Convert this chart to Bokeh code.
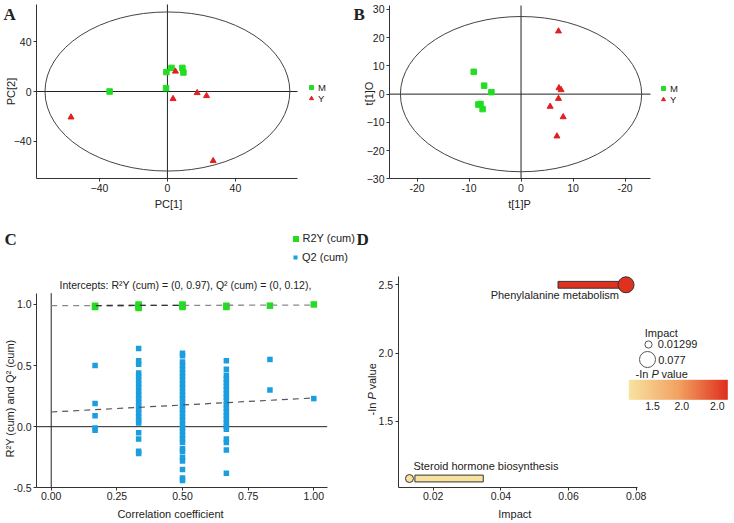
from math import pi
from bokeh.plotting import figure
from bokeh.layouts import column, row
from bokeh.models import (Label, Legend, LegendItem, ColorBar, LinearColorMapper,
                          FixedTicker, ColumnDataSource, NumeralTickFormatter)
from bokeh.embed import file_html
from bokeh.resources import INLINE

# ---------------- data ----------------
# Panel A: PCA score plot
a_m_x = [-34.0, -0.6, 2.4, 8.8, 9.4, -0.8]
a_m_y = [0.0, 15.6, 19.0, 19.0, 15.3, 2.7]
a_y_x = [-56.7, 4.7, 3.3, 17.5, 23.0, 26.9]
a_y_y = [-20.7, 16.2, -5.9, -1.1, -3.5, -55.8]
a_t2_semi = [72.0, 64.0]          # Hotelling T2 ellipse semi-axes
a_xlim = [-77.0, 76.5]
a_ylim = [-70.0, 70.0]
a_ticks = [-40, 0, 40]

# Panel B: OPLS-DA score plot
b_m_x = [-9.1, -7.1, -5.7, -7.8, -8.2, -7.4]
b_m_y = [7.9, 3.0, 0.7, -3.5, -3.7, -5.3]
b_y_x = [7.2, 7.3, 7.7, 7.2, 5.6, 8.1, 6.9]
b_y_y = [22.3, 2.2, 1.5, -1.6, -4.4, -8.1, -14.9]
b_t2_semi = [23.2, 27.5]
b_xlim = [-25.3, 24.9]
b_ylim = [-30.0, 31.4]
b_xticks = [-20, -10, 0, 10, 20]
b_xtick_labels = ["-20", "-10", "0", "10", "-20"]
b_yticks = [-30, -20, -10, 0, 10, 20, 30]

# Panel C: permutation test
perm_levels = [0.167, 0.333, 0.5, 0.667, 0.833, 1.0]
r2_by_level = [[0.99, 0.98], [1.0, 0.99, 0.98, 0.97], [1.0, 0.99, 0.98],
               [0.99, 0.98], [0.99], [1.0]]
q2_by_level = [
    [0.50, 0.19, 0.09, -0.01, -0.03],
    [0.64, 0.54, 0.51, 0.44, 0.41, 0.38, 0.35, 0.32, 0.29, 0.26, 0.23, 0.20,
     0.17, 0.14, 0.11, 0.08, 0.05, 0.03, -0.05, -0.10, -0.20, -0.22],
    [0.60, 0.58, 0.53, 0.50, 0.47, 0.44, 0.41, 0.38, 0.35, 0.32, 0.29, 0.26,
     0.23, 0.20, 0.17, 0.14, 0.11, 0.08, 0.05, 0.02, -0.01, -0.04, -0.07,
     -0.10, -0.13, -0.18, -0.20, -0.25, -0.28, -0.35, -0.42, -0.44],
    [0.54, 0.47, 0.42, 0.39, 0.36, 0.33, 0.30, 0.27, 0.24, 0.21, 0.18, 0.15,
     0.12, 0.09, 0.06, 0.03, 0.00, -0.02, -0.10, -0.13, -0.19, -0.38],
    [0.55, 0.30],
    [0.23],
]
r2_fit_x = [0.0, 1.0]
r2_fit_y = [0.99, 0.995]
r2_fit_dark_x = [0.17, 0.5]
r2_fit_dark_y = [0.991, 0.9925]
q2_fit_x = [0.0, 1.0]
q2_fit_y = [0.12, 0.235]
c_xlim = [-0.056, 1.051]
c_ylim = [-0.5, 1.092]
c_xticks = [0.0, 0.25, 0.5, 0.75, 1.0]
c_yticks = [-0.5, 0.0, 0.5, 1.0]
c_title = "Intercepts: R\u00b2Y (cum) = (0, 0.97), Q\u00b2 (cum) = (0, 0.12),"

# Panel D: pathway analysis
pathways = ["Phenylalanine metabolism", "Steroid hormone biosynthesis"]
impact = [0.077, 0.01299]
neglogp = [2.50, 1.08]
bar_left = [0.0569, 0.0146]
bar_right = [0.0758, 0.0348]
d_xlim = [0.00966, 0.0803]
d_ylim = [1.012, 2.563]
d_xticks = [0.02, 0.04, 0.06, 0.08]
d_yticks = [1.5, 2.0, 2.5]
size_legend = ["0.01299", "0.077"]
cbar_ticks = [1.42, 1.84, 2.35]
cbar_labels = ["1.5", "2.0", "2.0"]

# ---------------- styling helpers ----------------
FONT = "Liberation Sans"
SERIF = "Liberation Serif"
TXT = "#222222"
AX = "#333333"
GREEN = "#22dd22"
RED = "#e02020"
BLUE = "#1a9ee0"


def panel_fig(W, H, box, xlim, ylim):
    """Figure whose frame fills the canvas; the axes sit at the box edges."""
    L, R, T, B = box
    sx = (xlim[1] - xlim[0]) / (R - L)
    sy = (ylim[1] - ylim[0]) / (B - T)
    xr = (xlim[0] - L * sx, xlim[1] + (W - R) * sx)
    yr = (ylim[0] - (H - B) * sy, ylim[1] + T * sy)
    p = figure(width=W, height=H, x_range=xr, y_range=yr,
               output_backend="svg", toolbar_location=None,
               min_border=0, min_border_left=0, min_border_right=0,
               min_border_top=0, min_border_bottom=0)
    p.outline_line_color = None
    p.grid.visible = False
    p.xaxis.fixed_location = ylim[0]
    p.xaxis.bounds = (xlim[0], xlim[1])
    p.yaxis.fixed_location = xlim[0]
    p.yaxis.bounds = (ylim[0], ylim[1])
    for ax in p.axis:
        ax.axis_line_color = AX
        ax.major_tick_line_color = AX
        ax.major_tick_out = 3
        ax.major_tick_in = 0
        ax.minor_tick_line_color = None
        ax.major_label_text_font = FONT
        ax.major_label_text_font_size = "10.5px"
        ax.major_label_text_color = TXT
        ax.major_label_standoff = 2
    return p


def lab(p, x, y, text, size="11px", angle=0.0, align="left", baseline="middle",
        font=FONT, style="normal"):
    p.add_layout(Label(x=x, y=y, x_units="screen", y_units="screen", text=text,
                       angle=angle, text_align=align, text_baseline=baseline,
                       text_font=font, text_font_size=size, text_font_style=style,
                       text_color=TXT))


def leg(p, label, renderer, loc, gw, gh, standoff, size="11px"):
    L = Legend(items=[LegendItem(label=label, renderers=[renderer])], location=loc,
               glyph_width=gw, glyph_height=gh,
               label_standoff=standoff, spacing=0, padding=0, margin=0,
               label_height=gh, label_width=0,
               border_line_color=None, background_fill_alpha=0,
               label_text_font=FONT, label_text_font_size=size,
               label_text_color=TXT)
    p.add_layout(L)


def zero_lines(p, xlim, ylim):
    p.segment(x0=[0, xlim[0]], y0=[ylim[0], 0], x1=[0, xlim[1]], y1=[ylim[1], 0],
              line_color="#222222", line_width=1)


# ---------------- Panel A ----------------
WA, HA = 350, 228
pa = panel_fig(WA, HA, (36, 297, 4, 178), a_xlim, a_ylim)
pa.xaxis.ticker = FixedTicker(ticks=a_ticks)
pa.yaxis.ticker = FixedTicker(ticks=a_ticks)
zero_lines(pa, a_xlim, a_ylim)
pa.ellipse(x=[0], y=[0], width=[2 * a_t2_semi[0]], height=[2 * a_t2_semi[1]],
           fill_color=None, line_color="#444444", line_width=1)
ra_m = pa.scatter(a_m_x, a_m_y, marker="square", size=5.5, fill_color=GREEN,
                  line_color=GREEN)
ra_y = pa.scatter(a_y_x, a_y_y, marker="triangle", size=6, fill_color=RED,
                  line_color=RED)
lab(pa, 3, HA - 4.3, "A", size="17px", font=SERIF, style="bold", baseline="top")
lab(pa, 4, HA - 91, "PC[2]", angle=pi / 2, align="center", baseline="top")
lab(pa, 168, HA - 203, "PC[1]", align="center")
leg(pa, "M", ra_m, (306, HA - 92.5), 10, 10, 2, size="9.5px")
leg(pa, "Y", ra_y, (306, HA - 103.5), 10, 10, 2, size="9.5px")

# ---------------- Panel B ----------------
WB, HB = 382, 228
pb = panel_fig(WB, HB, (39, 300, 5, 178.3), b_xlim, b_ylim)
pb.xaxis.ticker = FixedTicker(ticks=b_xticks)
pb.xaxis.major_label_overrides = dict(zip(b_xticks, b_xtick_labels))
pb.yaxis.ticker = FixedTicker(ticks=b_yticks)
zero_lines(pb, b_xlim, b_ylim)
pb.ellipse(x=[0], y=[0], width=[2 * b_t2_semi[0]], height=[2 * b_t2_semi[1]],
           fill_color=None, line_color="#444444", line_width=1)
rb_m = pb.scatter(b_m_x, b_m_y, marker="square", size=5.5, fill_color=GREEN,
                  line_color=GREEN)
rb_y = pb.scatter(b_y_x, b_y_y, marker="triangle", size=6, fill_color=RED,
                  line_color=RED)
lab(pb, 3, HB - 4.3, "B", size="17px", font=SERIF, style="bold", baseline="top")
lab(pb, 12, HB - 93, "t[1]O", angle=pi / 2, align="center", baseline="top")
lab(pb, 169, HB - 203, "t[1]P", align="center")
leg(pb, "M", rb_m, (308, HB - 93.5), 10, 10, 2, size="9.5px")
leg(pb, "Y", rb_y, (308, HB - 104.5), 10, 10, 2, size="9.5px")

# ---------------- Panel C ----------------
r2_x = [lv for lv, vals in zip(perm_levels, r2_by_level) for _ in vals]
r2_y = [v for vals in r2_by_level for v in vals]
q2_x = [lv for lv, vals in zip(perm_levels, q2_by_level) for _ in vals]
q2_y = [v for vals in q2_by_level for v in vals]

WC, HC = 356, 293
pc = panel_fig(WC, HC, (36, 326.7, 64.7, 259.3), c_xlim, c_ylim)
pc.xaxis.ticker = FixedTicker(ticks=c_xticks)
pc.xaxis.formatter = NumeralTickFormatter(format="0.00")
pc.yaxis.ticker = FixedTicker(ticks=c_yticks)
pc.yaxis.formatter = NumeralTickFormatter(format="0.0")
pc.xaxis.major_label_standoff = 1
zero_lines(pc, c_xlim, c_ylim)
rc_q2 = pc.scatter(q2_x, q2_y, marker="square", size=5.5, fill_color=BLUE,
                   line_color=None)
rc_r2 = pc.scatter(r2_x, r2_y, marker="square", size=6.5, fill_color=GREEN,
                   line_color=None)
pc.line(r2_fit_x, r2_fit_y, line_color="#8a8a8a", line_width=1.3, line_dash="6 5")
pc.line(r2_fit_dark_x, r2_fit_dark_y, line_color="#333333", line_width=1.3,
        line_dash="6 5")
pc.line(q2_fit_x, q2_fit_y, line_color="#555555", line_width=1.2, line_dash="6 5")
lab(pc, 4, HC - 1.3, "C", size="17px", font=SERIF, style="bold", baseline="top")
lab(pc, 3, HC - 170, "R\u00b2Y (cum) and Q\u00b2 (cum)", angle=pi / 2, align="center",
    baseline="top")
lab(pc, 185, HC - 56, c_title, size="10.5px", align="center")
lab(pc, 170, HC - 285, "Correlation coefficient", align="center")
leg(pc, "R2Y (cum)", rc_r2, (287.5, HC - 17.5), 15, 15, 0)
leg(pc, "Q2 (cum)", rc_q2, (290, HC - 35.2), 10, 10, 2)

# ---------------- Panel D ----------------
pal_stops = [(0xf8, 0xe2, 0xa0), (0xf2, 0xa2, 0x62), (0xe0, 0x30, 0x1e)]
palette = []
for i in range(64):
    t = i / 63 * 2
    k = min(int(t), 1)
    f = t - k
    c0, c1 = pal_stops[k], pal_stops[k + 1]
    palette.append("#%02x%02x%02x" % tuple(int(round(c0[j] + (c1[j] - c0[j]) * f))
                                          for j in range(3)))
mapper = LinearColorMapper(palette=palette, low=min(neglogp), high=max(neglogp))

imin, imax = min(impact), max(impact)
dsrc = ColumnDataSource(dict(
    pathway=pathways, impact=impact, neglogp=neglogp,
    bar_left=bar_left, bar_right=bar_right,
    size=[8 + 8 * (v - imin) / (imax - imin) for v in impact],
))

WD, HD = 376, 293
pd_ = panel_fig(WD, HD, (41.7, 280.7, 47.7, 259.3), d_xlim, d_ylim)
pd_.xaxis.ticker = FixedTicker(ticks=d_xticks)
pd_.xaxis.formatter = NumeralTickFormatter(format="0.00")
pd_.yaxis.ticker = FixedTicker(ticks=d_yticks)
pd_.yaxis.formatter = NumeralTickFormatter(format="0.0")
pd_.xaxis.major_label_standoff = 1
pd_.hbar(y="neglogp", left="bar_left", right="bar_right", height=0.05, source=dsrc,
         fill_color={"field": "neglogp", "transform": mapper}, line_color="#333333",
         line_width=1)
pd_.scatter(x="impact", y="neglogp", size="size", marker="circle", source=dsrc,
            fill_color={"field": "neglogp", "transform": mapper}, line_color="#333333",
            line_width=1)
pd_.add_layout(Label(x=impact[0], y=neglogp[0], text=pathways[0], x_offset=-7,
                     y_offset=-10, text_align="right", text_baseline="middle",
                     text_font=FONT, text_font_size="11px", text_color=TXT))
pd_.add_layout(Label(x=impact[1], y=neglogp[1], text=pathways[1], x_offset=4,
                     y_offset=13, text_align="left", text_baseline="middle",
                     text_font=FONT, text_font_size="11px", text_color=TXT))

lab(pd_, 0, HD - 1.3, "D", size="17px", font=SERIF, style="bold", baseline="top")
# rotated axis title "-In P value" (P in italics)
lab(pd_, 9, HD - 187, "-In", angle=pi / 2, baseline="top")
lab(pd_, 9, HD - 171.1, "P", angle=pi / 2, baseline="top", style="italic")
lab(pd_, 9, HD - 161.0, "value", angle=pi / 2, baseline="top")
lab(pd_, 158.3, HD - 285.3, "Impact", align="center")

# legend: circle size (legend-only renderers, hidden in the plot)
lab(pd_, 288.3, HD - 104.7, "Impact")
r_small = pd_.scatter(x=[impact[1]], y=[neglogp[1]], marker="circle",
                      fill_color="white", line_color="#555555", line_width=1,
                      visible=False)
r_big = pd_.scatter(x=[impact[0]], y=[neglogp[0]], marker="circle",
                    fill_color="white", line_color="#555555", line_width=1,
                    visible=False)
leg(pd_, size_legend[0], r_small, (282.7, HD - 125.3), 18, 18, 1)
leg(pd_, " ", r_big, (270.7, HD - 151), 40, 40, 0)
lab(pd_, 301.7, HD - 131, size_legend[1])
# legend: colour
lab(pd_, 279, HD - 145.3, "-In")
lab(pd_, 294.9, HD - 145.3, "P", style="italic")
lab(pd_, 305.0, HD - 145.3, "value")
cb = ColorBar(color_mapper=mapper, orientation="horizontal",
              location=(272.3, HD - 151.3 - 33), width=99, height=20,
              padding=0, margin=0,
              ticker=FixedTicker(ticks=cbar_ticks),
              major_label_overrides=dict(zip(cbar_ticks, cbar_labels)),
              major_tick_line_color=None, minor_tick_line_color=None,
              bar_line_color=None, border_line_color=None, background_fill_alpha=0,
              major_label_text_font=FONT, major_label_text_font_size="10.5px",
              major_label_text_color=TXT, label_standoff=2)
pd_.add_layout(cb)

layout = column(row(pa, pb), row(pc, pd_))

open("out.html", "w").write(file_html(layout, INLINE))
